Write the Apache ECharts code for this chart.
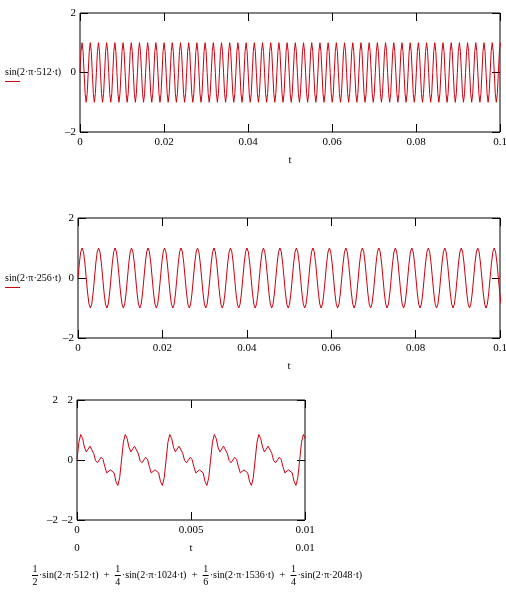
<!DOCTYPE html>
<html>
<head>
<meta charset="utf-8">
<script src="https://cdn.jsdelivr.net/npm/echarts@6/dist/echarts.min.js"></script>
<style>
html,body{margin:0;padding:0;background:#fff;}
#chart{width:506px;height:597px;}
</style>
</head>
<body>
<div id="chart"></div>
<script>
// Sample grids (time step between the samples)
const tStep512 = 1 / 4096;
const tStep256 = 1 / 3072;
const tStepSum = 1 / 12288;

// Panel 1: sin(2·π·512·t)
const y512 = [
0,.71,1,.71,0,-.71,-1,-.71, 0,.71,1,.71,0,-.71,-1,-.71, 0,.71,1,.71,0,-.71,-1,-.71,
0,.71,1,.71,0,-.71,-1,-.71, 0,.71,1,.71,0,-.71,-1,-.71, 0,.71,1,.71,0,-.71,-1,-.71,
0,.71,1,.71,0,-.71,-1,-.71, 0,.71,1,.71,0,-.71,-1,-.71, 0,.71,1,.71,0,-.71,-1,-.71,
0,.71,1,.71,0,-.71,-1,-.71, 0,.71,1,.71,0,-.71,-1,-.71, 0,.71,1,.71,0,-.71,-1,-.71,
0,.71,1,.71,0,-.71,-1,-.71, 0,.71,1,.71,0,-.71,-1,-.71, 0,.71,1,.71,0,-.71,-1,-.71,
0,.71,1,.71,0,-.71,-1,-.71, 0,.71,1,.71,0,-.71,-1,-.71, 0,.71,1,.71,0,-.71,-1,-.71,
0,.71,1,.71,0,-.71,-1,-.71, 0,.71,1,.71,0,-.71,-1,-.71, 0,.71,1,.71,0,-.71,-1,-.71,
0,.71,1,.71,0,-.71,-1,-.71, 0,.71,1,.71,0,-.71,-1,-.71, 0,.71,1,.71,0,-.71,-1,-.71,
0,.71,1,.71,0,-.71,-1,-.71, 0,.71,1,.71,0,-.71,-1,-.71, 0,.71,1,.71,0,-.71,-1,-.71,
0,.71,1,.71,0,-.71,-1,-.71, 0,.71,1,.71,0,-.71,-1,-.71, 0,.71,1,.71,0,-.71,-1,-.71,
0,.71,1,.71,0,-.71,-1,-.71, 0,.71,1,.71,0,-.71,-1,-.71, 0,.71,1,.71,0,-.71,-1,-.71,
0,.71,1,.71,0,-.71,-1,-.71, 0,.71,1,.71,0,-.71,-1,-.71, 0,.71,1,.71,0,-.71,-1,-.71,
0,.71,1,.71,0,-.71,-1,-.71, 0,.71,1,.71,0,-.71,-1,-.71, 0,.71,1,.71,0,-.71,-1,-.71,
0,.71,1,.71,0,-.71,-1,-.71, 0,.71,1,.71,0,-.71,-1,-.71, 0,.71,1,.71,0,-.71,-1,-.71,
0,.71,1,.71,0,-.71,-1,-.71, 0,.71,1,.71,0,-.71,-1,-.71, 0,.71,1,.71,0,-.71,-1,-.71,
0,.71,1,.71,0,-.71,-1,-.71, 0,.71,1,.71,0,-.71,-1,-.71, 0,.71,1,.71,0,-.71,-1,-.71,
0,.71,1,.71,0,-.71,-1,-.71, 0,.71,1,.71,0,-.71,-1,-.71, 0,.71,1,.71,0,-.71,-1,-.71,
0,.71,1
];

// Panel 2: sin(2·π·256·t)
const y256 = [
0,.5,.87,1,.87,.5,0,-.5,-.87,-1,-.87,-.5, 0,.5,.87,1,.87,.5,0,-.5,-.87,-1,-.87,-.5,
0,.5,.87,1,.87,.5,0,-.5,-.87,-1,-.87,-.5, 0,.5,.87,1,.87,.5,0,-.5,-.87,-1,-.87,-.5,
0,.5,.87,1,.87,.5,0,-.5,-.87,-1,-.87,-.5, 0,.5,.87,1,.87,.5,0,-.5,-.87,-1,-.87,-.5,
0,.5,.87,1,.87,.5,0,-.5,-.87,-1,-.87,-.5, 0,.5,.87,1,.87,.5,0,-.5,-.87,-1,-.87,-.5,
0,.5,.87,1,.87,.5,0,-.5,-.87,-1,-.87,-.5, 0,.5,.87,1,.87,.5,0,-.5,-.87,-1,-.87,-.5,
0,.5,.87,1,.87,.5,0,-.5,-.87,-1,-.87,-.5, 0,.5,.87,1,.87,.5,0,-.5,-.87,-1,-.87,-.5,
0,.5,.87,1,.87,.5,0,-.5,-.87,-1,-.87,-.5, 0,.5,.87,1,.87,.5,0,-.5,-.87,-1,-.87,-.5,
0,.5,.87,1,.87,.5,0,-.5,-.87,-1,-.87,-.5, 0,.5,.87,1,.87,.5,0,-.5,-.87,-1,-.87,-.5,
0,.5,.87,1,.87,.5,0,-.5,-.87,-1,-.87,-.5, 0,.5,.87,1,.87,.5,0,-.5,-.87,-1,-.87,-.5,
0,.5,.87,1,.87,.5,0,-.5,-.87,-1,-.87,-.5, 0,.5,.87,1,.87,.5,0,-.5,-.87,-1,-.87,-.5,
0,.5,.87,1,.87,.5,0,-.5,-.87,-1,-.87,-.5, 0,.5,.87,1,.87,.5,0,-.5,-.87,-1,-.87,-.5,
0,.5,.87,1,.87,.5,0,-.5,-.87,-1,-.87,-.5, 0,.5,.87,1,.87,.5,0,-.5,-.87,-1,-.87,-.5,
0,.5,.87,1,.87,.5,0,-.5,-.87,-1,-.87,-.5,
0,.5,.87,1,.87,.5,0,-.5,-.87
];

// Panel 3: 1/2·sin(2π512t)+1/4·sin(2π1024t)+1/6·sin(2π1536t)+1/4·sin(2π2048t)
const ySum = [
0,.59,.85,.72,.43,.27,.33,.46,.43,.22,-.02,-.09,0,.09,.02,-.22,-.43,-.46,-.33,-.27,-.43,-.72,-.85,-.59,
0,.59,.85,.72,.43,.27,.33,.46,.43,.22,-.02,-.09,0,.09,.02,-.22,-.43,-.46,-.33,-.27,-.43,-.72,-.85,-.59,
0,.59,.85,.72,.43,.27,.33,.46,.43,.22,-.02,-.09,0,.09,.02,-.22,-.43,-.46,-.33,-.27,-.43,-.72,-.85,-.59,
0,.59,.85,.72,.43,.27,.33,.46,.43,.22,-.02,-.09,0,.09,.02,-.22,-.43,-.46,-.33,-.27,-.43,-.72,-.85,-.59,
0,.59,.85,.72,.43,.27,.33,.46,.43,.22,-.02,-.09,0,.09,.02,-.22,-.43,-.46,-.33,-.27,-.43,-.72,-.85,-.59,
0,.59,.85,.72
];

// Axis ranges / tick steps
const xRangeLong = [0, 0.1], xStepLong = 0.02;
const xRangeShort = [0, 0.01], xStepShort = 0.005;
const yRange = [-2, 2], yStep = 2;

// Labels
const label512 = 'sin(2·π·512·t)';
const label256 = 'sin(2·π·256·t)';
const sumTerms = ['·sin(2·π·512·t)', '·sin(2·π·1024·t)', '·sin(2·π·1536·t)', '·sin(2·π·2048·t)'];
const sumDenoms = ['2', '4', '6', '4'];
const xName = 't';

const FONT = 'Liberation Serif';
const RED = '#cc0010';
const minusFmt = v => (v < 0 ? '\u2013' + Math.abs(v) : String(v));
const lbl = {color:'#000', fontFamily:FONT, fontSize:11};
const TICK = {show:true, inside:true, length:8, lineStyle:{color:'#000'}};
const NOLINE = {show:false, onZero:false};

function toPairs(arr, step){ return arr.map((v,i)=>[i*step, v]); }

function xBottom(g, r, step, extra){
  return Object.assign({gridIndex:g, type:'value', position:'bottom', min:r[0], max:r[1], interval:step,
    axisLine:NOLINE, splitLine:{show:false}, axisTick:TICK,
    axisLabel:Object.assign({margin:5, hideOverlap:false}, lbl)}, extra||{});
}
function xTop(g, r, step){
  return {gridIndex:g, type:'value', position:'top', min:r[0], max:r[1], interval:step,
    axisLine:NOLINE, splitLine:{show:false}, axisLabel:{show:false}, axisTick:TICK};
}
function yLeft(g){
  return {gridIndex:g, type:'value', position:'left', min:yRange[0], max:yRange[1], interval:yStep,
    axisLine:NOLINE, splitLine:{show:false}, axisTick:TICK,
    axisLabel:Object.assign({margin:4, formatter:minusFmt}, lbl)};
}
function yRight(g){
  return {gridIndex:g, type:'value', position:'right', min:yRange[0], max:yRange[1], interval:yStep,
    axisLine:NOLINE, splitLine:{show:false}, axisLabel:{show:false}, axisTick:TICK};
}

const gridStyle = {show:true, borderColor:'#000', borderWidth:1, backgroundColor:'transparent',
  containLabel:false, outerBoundsMode:'none'};

// formula graphic pieces, laid out left to right with measured widths
const F10 = '10px "'+FONT+'"';
const F11 = '11px "'+FONT+'"';
const mctx = document.createElement('canvas').getContext('2d');
function measure(txt, font){ mctx.font = font; return mctx.measureText(txt).width; }
const formulaLeft = 32, formulaRight = 362, formulaY = 575;
const fracW = 6, fracGap = 1;
const plusW = measure('+', F11);
const termW = sumTerms.map(s => measure(s, F10));
const fixedW = termW.reduce((a,b)=>a+b,0) + 4*(fracW+fracGap) + 3*plusW;
const plusGap = Math.max(3, (formulaRight - formulaLeft - fixedW) / 6);

const graphics = [];
graphics.push({type:'text', x:5, y:72, style:{text:label512, font:F10, fill:'#000', textVerticalAlign:'middle'}});
graphics.push({type:'line', shape:{x1:5, y1:81.5, x2:20, y2:81.5}, style:{stroke:RED, lineWidth:1}});
graphics.push({type:'text', x:5, y:278, style:{text:label256, font:F10, fill:'#000', textVerticalAlign:'middle'}});
graphics.push({type:'line', shape:{x1:5, y1:287.5, x2:20, y2:287.5}, style:{stroke:RED, lineWidth:1}});
let cx = formulaLeft;
for (let i=0;i<4;i++){
  const fc = cx + fracW/2;
  graphics.push({type:'text', x:fc, y:formulaY-6, style:{text:'1', font:F10, fill:'#000', textAlign:'center', textVerticalAlign:'middle'}});
  graphics.push({type:'line', shape:{x1:fc-3, y1:formulaY+0.5, x2:fc+3, y2:formulaY+0.5}, style:{stroke:'#000', lineWidth:1}});
  graphics.push({type:'text', x:fc, y:formulaY+7, style:{text:sumDenoms[i], font:F10, fill:'#000', textAlign:'center', textVerticalAlign:'middle'}});
  cx += fracW + fracGap;
  graphics.push({type:'text', x:cx, y:formulaY, style:{text:sumTerms[i], font:F10, fill:'#000', textAlign:'left', textVerticalAlign:'middle'}});
  cx += termW[i];
  if (i < 3){
    cx += plusGap;
    graphics.push({type:'text', x:cx, y:formulaY, style:{text:'+', font:F11, fill:'#000', textAlign:'left', textVerticalAlign:'middle'}});
    cx += plusW + plusGap;
  }
}

const chart = echarts.init(document.getElementById('chart'), null, {renderer:'canvas'});
chart.setOption({
  backgroundColor:'#fff',
  animation:false,
  grid:[
    Object.assign({left:80, top:13, width:420, height:119}, gridStyle),
    Object.assign({left:78, top:218, width:422, height:120}, gridStyle),
    Object.assign({left:77, top:400, width:228, height:120}, gridStyle)
  ],
  xAxis:[
    xBottom(0, xRangeLong, xStepLong, {name:xName, nameLocation:'middle', nameGap:23, nameMoveOverlap:false, nameTextStyle:lbl}),
    xTop(0, xRangeLong, xStepLong),
    xBottom(1, xRangeLong, xStepLong, {name:xName, nameLocation:'middle', nameGap:23, nameMoveOverlap:false, nameTextStyle:lbl}),
    xTop(1, xRangeLong, xStepLong),
    xBottom(2, xRangeShort, xStepShort),
    xTop(2, xRangeShort, xStepShort),
    {gridIndex:2, type:'value', position:'bottom', offset:18, min:xRangeShort[0], max:xRangeShort[1], interval:0.01,
      axisLine:NOLINE, axisTick:{show:false}, splitLine:{show:false},
      axisLabel:Object.assign({margin:5}, lbl),
      name:xName, nameLocation:'middle', nameGap:5, nameMoveOverlap:false, nameTextStyle:lbl}
  ],
  yAxis:[
    yLeft(0), yRight(0),
    yLeft(1), yRight(1),
    yLeft(2), yRight(2),
    {gridIndex:2, type:'value', position:'left', offset:14, min:yRange[0], max:yRange[1], interval:4,
      axisLine:NOLINE, axisTick:{show:false}, splitLine:{show:false},
      axisLabel:Object.assign({margin:5, formatter:minusFmt}, lbl)}
  ],
  series:[
    {type:'line', xAxisIndex:0, yAxisIndex:0, data:toPairs(y512, tStep512), showSymbol:false, symbol:'none',
      lineStyle:{color:RED, width:1}, itemStyle:{color:RED}, clip:true},
    {type:'line', xAxisIndex:2, yAxisIndex:2, data:toPairs(y256, tStep256), showSymbol:false, symbol:'none',
      lineStyle:{color:RED, width:1}, itemStyle:{color:RED}, clip:true},
    {type:'line', xAxisIndex:4, yAxisIndex:4, data:toPairs(ySum, tStepSum), showSymbol:false, symbol:'none',
      lineStyle:{color:RED, width:1}, itemStyle:{color:RED}, clip:true}
  ],
  graphic:graphics
});
</script>
</body>
</html>
